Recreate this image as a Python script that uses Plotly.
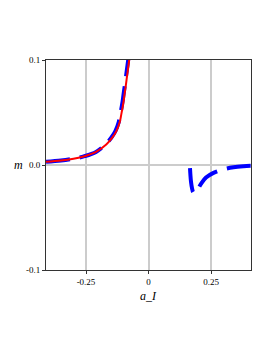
import plotly.graph_objects as go

# Red solid curve (left branch)
red_a = [-0.41, -0.35, -0.30, -0.256, -0.21, -0.169, -0.145, -0.129, -0.115, -0.109, -0.100, -0.096, -0.090, -0.085, -0.080, -0.075]
red_m = [0.003, 0.0042, 0.0060, 0.0084, 0.0125, 0.0195, 0.026, 0.032, 0.041, 0.048, 0.060, 0.067, 0.077, 0.0862, 0.095, 0.104]

# Blue dashed curve, left branch
blue_left_a = [-0.41, -0.35, -0.30, -0.256, -0.21, -0.172, -0.149, -0.133, -0.119, -0.113, -0.104, -0.100, -0.094, -0.089, -0.084, -0.079]
blue_left_m = [0.003, 0.0042, 0.0060, 0.0084, 0.0125, 0.0195, 0.026, 0.032, 0.041, 0.048, 0.060, 0.067, 0.077, 0.0862, 0.095, 0.104]

# Blue dashed curve, right branch
blue_right_a = [0.166, 0.1675, 0.170, 0.174, 0.179, 0.185, 0.195, 0.210, 0.230, 0.260, 0.300, 0.340, 0.380, 0.410]
blue_right_m = [-0.003, -0.009, -0.016, -0.022, -0.026, -0.0265, -0.024, -0.018, -0.012, -0.0075, -0.0042, -0.0022, -0.0012, -0.0008]

x_ticks = [-0.25, 0, 0.25]
x_tick_text = ["-0.25", "0", "0.25"]
y_ticks = [-0.1, 0.0, 0.1]
y_tick_text = ["-0.1", "0.0", "0.1"]

fig = go.Figure()
blue_line = dict(color="#0000ff", width=4, dash="24px,10px", shape="spline")
fig.add_trace(go.Scatter(x=blue_left_a, y=blue_left_m, mode="lines", line=blue_line, showlegend=False))
fig.add_trace(go.Scatter(x=blue_right_a, y=blue_right_m, mode="lines", line=blue_line, showlegend=False))
fig.add_trace(go.Scatter(x=red_a, y=red_m, mode="lines",
                         line=dict(color="#ff0000", width=2, shape="spline"), showlegend=False))

tickfont = dict(family="Liberation Serif", size=9, color="#000000")
fig.update_xaxes(range=[-0.41, 0.41], tickvals=x_ticks, ticktext=x_tick_text,
                 showgrid=True, gridcolor="#cccccc", gridwidth=1.5, zeroline=False,
                 showline=True, linecolor="#333333", linewidth=1, mirror=True,
                 ticks="outside", ticklen=3, tickcolor="#333333", tickfont=tickfont)
fig.update_yaxes(range=[-0.1, 0.1], tickvals=y_ticks, ticktext=y_tick_text,
                 showgrid=True, gridcolor="#cccccc", gridwidth=1.5, zeroline=False,
                 showline=True, linecolor="#333333", linewidth=1, mirror=True,
                 ticks="outside", ticklen=3, tickcolor="#333333", tickfont=tickfont)

fig.add_annotation(text="<i>m</i>", xref="paper", yref="paper", x=-0.135, y=0.5,
                   showarrow=False, font=dict(family="Liberation Serif", size=12, color="#000000"),
                   xanchor="center", yanchor="middle")
fig.add_annotation(text="<i>a_I</i>", xref="paper", yref="paper", x=0.5, y=-0.125,
                   showarrow=False, font=dict(family="Liberation Serif", size=12, color="#000000"),
                   xanchor="center", yanchor="middle")

fig.update_layout(width=265, height=345, margin=dict(l=38, r=22, t=52, b=83),
                  plot_bgcolor="#ffffff", paper_bgcolor="#ffffff")
fig.write_html("out.html")
